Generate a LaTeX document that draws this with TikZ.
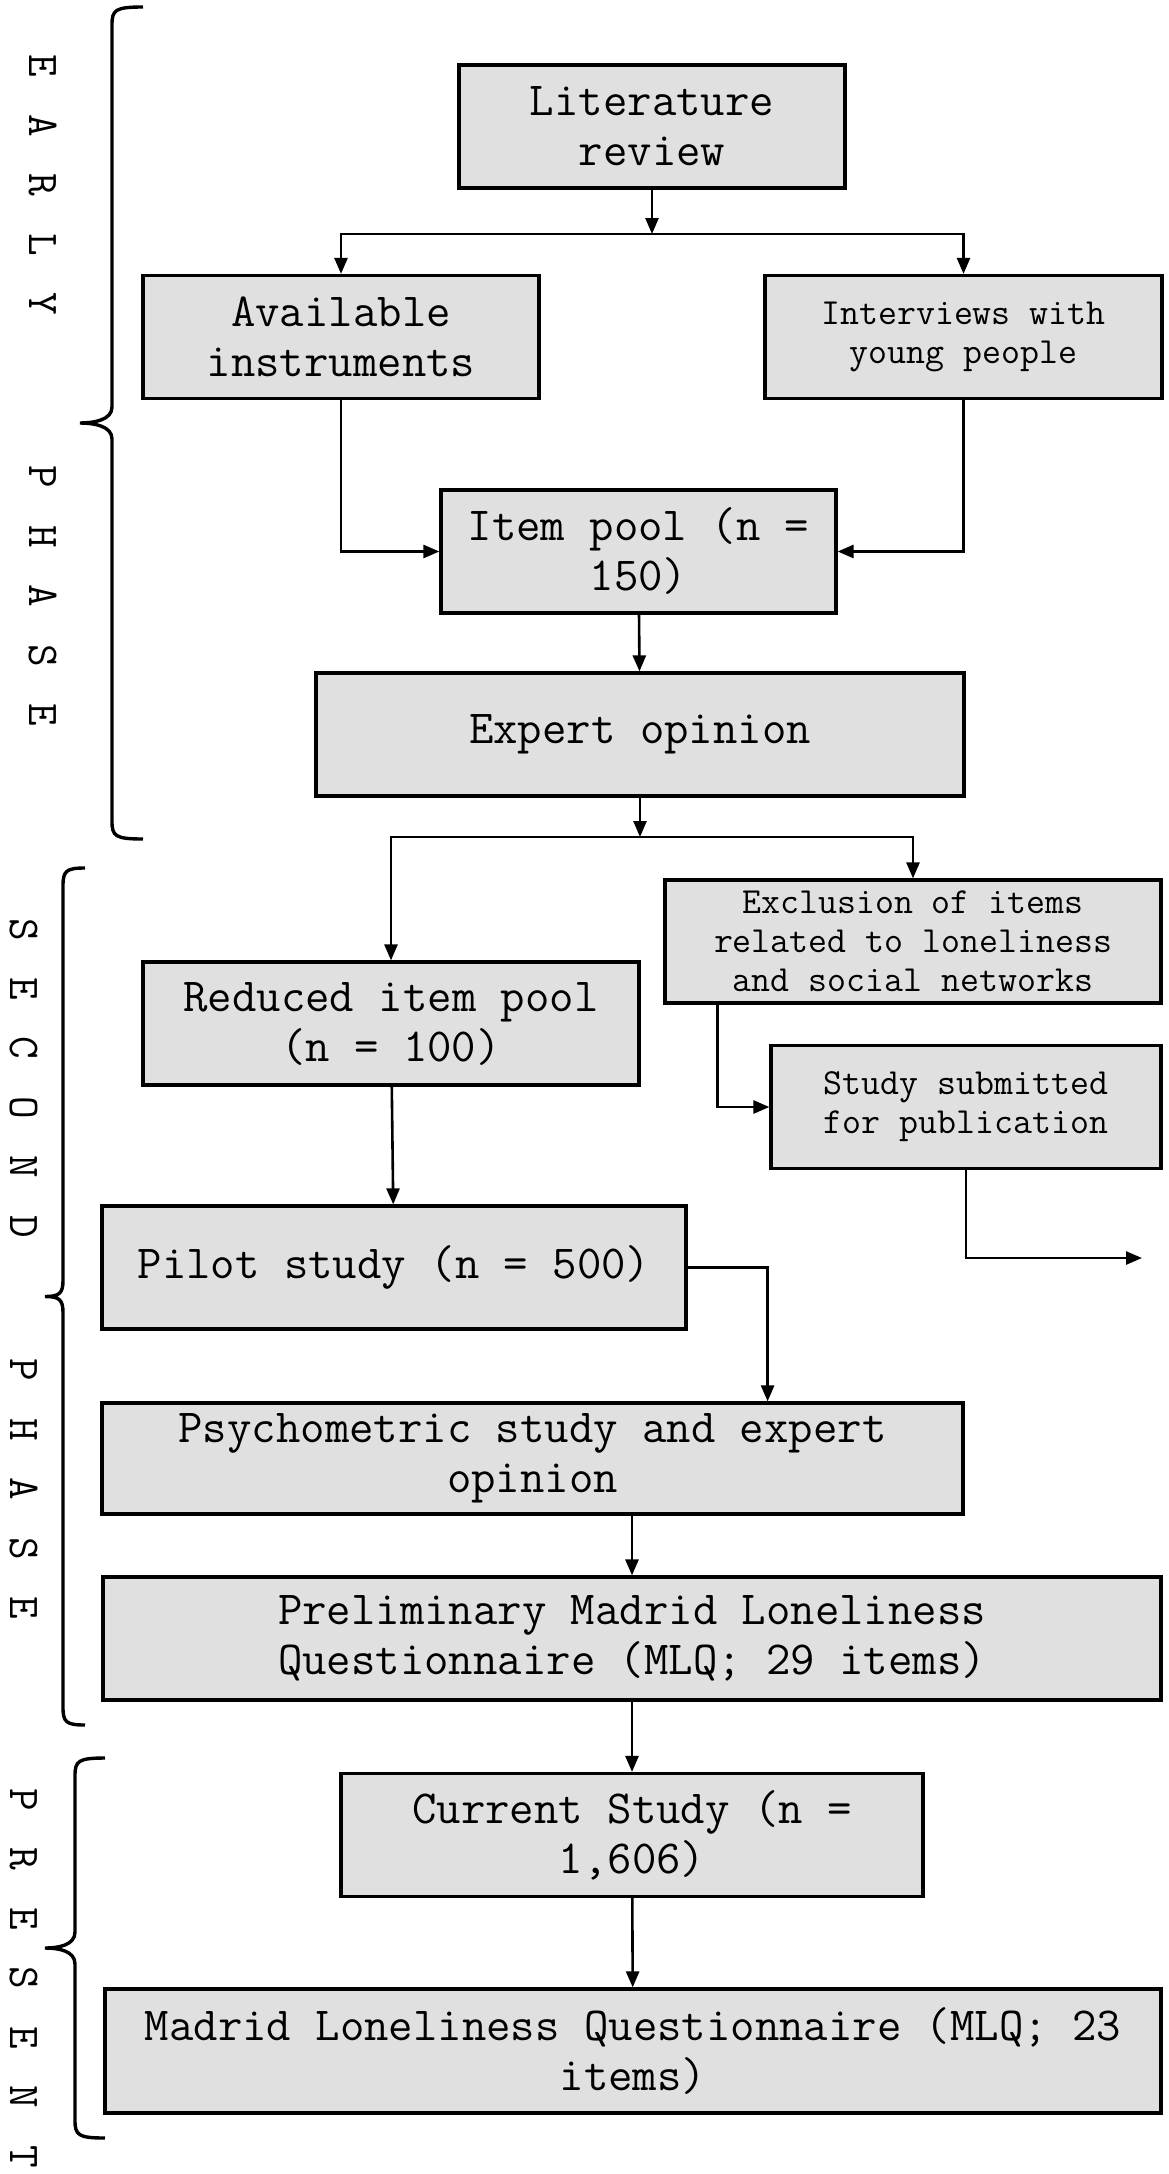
\documentclass[tikz,border=0pt]{standalone}
\usepackage{fontspec}
\usetikzlibrary{arrows.meta,positioning,calc}
\newcommand{\boxfont}{\ttfamily}
\definecolor{boxgray}{HTML}{E0E0E0}
\newcommand{\phasefont}{\boxfont\fontsize{22}{26}\selectfont\spaceskip 18.4pt\relax}

% curly bracket on the left: line x, hook end x, tip x, top y, bottom y
\newcommand{\phasebrace}[5]{%
  \pgfmathsetmacro{\bracemid}{(#4+#5)/2}%
  \draw[bracepen] (#2,#4) .. controls (#1+3,#4) and (#1,#4+3) .. (#1,#4+18)
    -- (#1,\bracemid-16) .. controls (#1,\bracemid-3) and (#3+14,\bracemid) .. (#3,\bracemid)
    .. controls (#3+14,\bracemid) and (#1,\bracemid+3) .. (#1,\bracemid+16)
    -- (#1,#5-18) .. controls (#1,#5-3) and (#1+3,#5) .. (#2,#5);
}

\begin{document}
\begin{tikzpicture}[x=0.5pt, y=-0.5pt,
  st/.style={rectangle, draw, line width=1.6pt, fill=boxgray, minimum width=#1, minimum height=61.5pt, inner sep=0pt, align=center, font=\boxfont\fontsize{23.7}{25}\selectfont},
  sm/.style={font=\boxfont\fontsize{18.4}{19.5}\selectfont},
  arr/.style={-{Triangle[length=8pt,width=6.5pt]}, line width=1.3pt},
  bracepen/.style={line width=1.7pt},
  phase/.style={rotate=-90, inner sep=0pt, font=\phasefont}
]
  \useasboundingbox (0,0) rectangle (1168,2174);
  \clip (0,0) rectangle (1168,2174);

  % phases
  \phasebrace{112}{143}{80}{7}{839}
  \phasebrace{63}{85}{45}{868}{1725}
  \phasebrace{75}{105}{45}{1758}{2138}
  \node[phase] (early) at (43,185) {E A R L Y};
  \node[phase] (earlyph) at (43,596) {P H A S E};
  \node[phase] (second) at (24,1078) {S E C O N D};
  \node[phase] (secondph) at (24,1489) {P H A S E};
  \node[phase] (present) at (24,1978) {P R E S E N T};

  % boxes
  \node[st=193pt] (lit) at (652,126.5) {Literature\\review};
  \node[st=198pt] (avail) at (341,337) {Available\\instruments};
  \node[st=198.5pt, sm] (interv) at (963.5,337) {Interviews with\\young people};
  \node[st=197.5pt] (pool) at (638.5,551.5) {Item pool (n =\\150)};
  \node[st=324pt] (expert) at (640,734.5) {Expert opinion};
  \node[st=248pt, sm] (excl) at (913,941.5) {Exclusion of items\\related to loneliness\\and social networks};
  \node[st=248pt] (reduced) at (391,1023.5) {Reduced item pool\\(n = 100)};
  \node[st=195pt, sm] (submit) at (966,1107) {Study submitted\\for publication};
  \node[st=292pt] (pilot) at (394,1267.5) {Pilot study (n = 500)};
  \node[st=430.5pt, minimum height=55.5pt] (psych) at (532.5,1458.5) {Psychometric study and expert\\opinion};
  \node[st=529pt] (prelim) at (632,1638.5) {Preliminary Madrid Loneliness\\Questionnaire (MLQ; 29 items)};
  \node[st=291pt] (current) at (632,1835) {Current Study (n =\\1,606)};
  \node[st=528pt, minimum height=62pt] (mlq) at (633,2051) {Madrid Loneliness Questionnaire (MLQ; 23\\items)};

  % connectors
  \coordinate (split1) at (652,234);
  \coordinate (split2) at (640,837);
  \coordinate (pubout) at (1142,1258);
  \draw[arr] (lit) -- (split1);
  \draw[arr] (split1) -| (avail);
  \draw[arr] (split1) -| (interv);
  \draw[arr] (avail) |- (pool);
  \draw[arr] (interv) |- (pool);
  \draw[arr] (pool) -- (expert);
  \draw[arr] (expert) -- (split2);
  \draw[arr] (split2) -| (reduced);
  \draw[arr] (split2) -| (excl);
  \draw[arr] ([xshift=27pt]excl.south west) |- (submit);
  \draw[arr] (submit) |- (pubout);
  \draw[arr] (reduced) -- (pilot);
  \draw[arr] (pilot) -| ([xshift=-98.5pt]psych.north east);
  \draw[arr] (psych.south -| prelim.north) -- (prelim);
  \draw[arr] (prelim) -- (current);
  \draw[arr] (current) -- (mlq);
\end{tikzpicture}
\end{document}
